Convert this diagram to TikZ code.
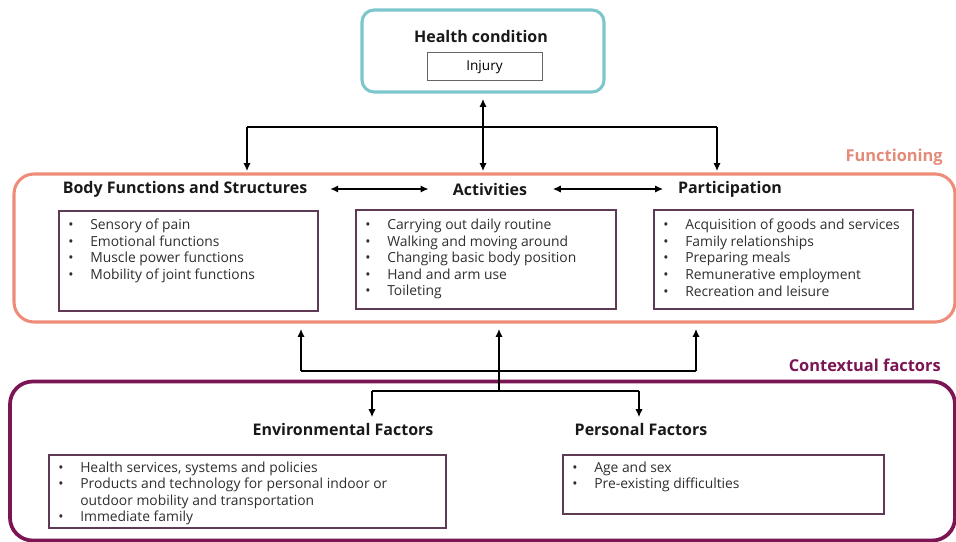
\documentclass[tikz,border=0pt]{standalone}
\usepackage{fontspec}
\setmainfont{Open Sans}
\usetikzlibrary{arrows.meta}
\definecolor{hcteal}{HTML}{7CC6CC}
\definecolor{fnsalmon}{HTML}{EF8C79}
\definecolor{fnlabel}{HTML}{E48A78}
\definecolor{cfmaroon}{HTML}{7B1553}
\definecolor{subbord}{HTML}{5E3A55}
\definecolor{listtext}{HTML}{2E2E2E}
\newcommand\bl{\makebox[16.5pt][l]{\textbullet}}
\newcommand\blind{\makebox[16.5pt][l]{}}
\begin{document}
\begin{tikzpicture}[x=0.75pt,y=-0.75pt,
  heading/.style={inner sep=0pt, font=\bfseries\fontsize{12}{14}\selectfont, text=black!90},
  subbox/.style={draw=subbord, line width=0.9pt, inner sep=0pt},
  listtxt/.style={anchor=north west, inner sep=0pt, align=left, text=listtext,
     font=\fontsize{10.4}{12.4}\selectfont},
  conn/.style={line width=1.6pt, draw=black},
  arr/.style={conn, -{Latex[length=6pt,width=5.5pt]}, shorten >=3pt},
  darr/.style={conn, {Latex[length=6pt,width=5.5pt]}-{Latex[length=6pt,width=5.5pt]}}
]
\useasboundingbox (0,0) rectangle (956,542);

% Health condition
\node[draw=hcteal, line width=2.3pt, rounded corners=9pt, minimum width=181.5pt, minimum height=61.5pt, inner sep=0pt] (hc) at (483,51) {};
\node[heading] (hct) at (481,37) {Health condition};
\node[draw=black!60, line width=0.6pt, minimum width=86.25pt, minimum height=21pt, inner sep=0pt, text depth=0pt, font=\fontsize{10.2}{12}\selectfont] (inj) at (484.5,66) {Injury};

% Functioning
\node[draw=fnsalmon, line width=2.3pt, rounded corners=15pt, minimum width=705.75pt, minimum height=111pt, inner sep=0pt] (fn) at (484.5,248) {};
\node[anchor=east, inner sep=0pt, text=fnlabel, font=\bfseries\fontsize{12.3}{14}\selectfont] (fnl) at (943,157) {Functioning};

\node[heading] (bfs) at (185,189) {Body Functions and Structures};
\node[heading] (act) at (490,189) {Activities};
\node[heading] (par) at (730,189) {Participation};

\draw[darr, shorten <=17pt, shorten >=18pt] (bfs.east) -- (act.west);
\draw[darr, shorten <=19pt, shorten >=11pt] (act.east) -- (par.west);

\node[subbox, minimum width=194.25pt, minimum height=75pt] (b1) at (188.5,261) {};
\node[subbox, minimum width=195pt, minimum height=74.25pt] (b2) at (486,259.5) {};
\node[subbox, minimum width=194.25pt, minimum height=74.25pt] (b3) at (783.5,259.5) {};

\node[listtxt] (l1) at (68,219) {\bl Sensory of pain\\ \bl Emotional functions\\ \bl Muscle power functions\\ \bl Mobility of joint functions};
\node[listtxt] (l2) at (365,219) {\bl Carrying out daily routine\\ \bl Walking and moving around\\ \bl Changing basic body position\\ \bl Hand and arm use\\ \bl Toileting};
\node[listtxt] (l3) at (663,219) {\bl Acquisition of goods and services\\ \bl Family relationships\\ \bl Preparing meals\\ \bl Remunerative employment\\ \bl Recreation and leisure};

% top connectors
\coordinate (tl) at (247,127);
\coordinate (tr) at (717,127);
\draw[darr, shorten <=4pt, shorten >=1pt] (hc.south) -- (hc.south |- fn.north);
\draw[conn, line width=2.2pt] (tl) -- (tr);
\draw[arr, shorten >=1pt] (tl) -- (tl |- fn.north);
\draw[arr, shorten >=1pt] (tr) -- (tr |- fn.north);

% Contextual factors
\node[draw=cfmaroon, line width=2.8pt, rounded corners=17pt, minimum width=708.75pt, minimum height=119.25pt, inner sep=0pt] (cf) at (482.5,461) {};
\node[anchor=east, inner sep=0pt, text=cfmaroon, font=\bfseries\fontsize{12.3}{14}\selectfont] (cfl) at (941,365) {Contextual factors};

\node[heading] (ef) at (343,429) {Environmental Factors};
\node[heading] (pf) at (641,429) {Personal Factors};

\node[subbox, minimum width=297.75pt, minimum height=54.75pt] (eb) at (247.5,491.5) {};
\node[subbox, minimum width=240.75pt, minimum height=44.25pt] (pb) at (723.5,484.5) {};

\node[listtxt] (le) at (58,461.5) {\bl Health services, systems and policies\\ \bl Products and technology for personal indoor or\\ \blind outdoor mobility and transportation\\ \bl Immediate family};
\node[listtxt] (lp) at (572,461.5) {\bl Age and sex\\ \bl Pre-existing difficulties};

% bottom connectors
\coordinate (bl) at (301,371);
\coordinate (br) at (696,371);
\coordinate (bm) at (499,391);
\coordinate (el) at (372,391);
\coordinate (er) at (639,391);
\draw[conn] (bl) -- (br);
\draw[arr, shorten >=4pt] (bl) -- (bl |- fn.south);
\draw[arr, shorten >=4pt] (br) -- (br |- fn.south);
\draw[arr, shorten >=4pt] (bm) -- (bm |- fn.south);
\draw[conn] (el) -- (er);
\draw[arr, shorten >=4pt] (el) -- (el |- ef.north);
\draw[arr, shorten >=4pt] (er) -- (er |- pf.north);
\end{tikzpicture}
\end{document}
